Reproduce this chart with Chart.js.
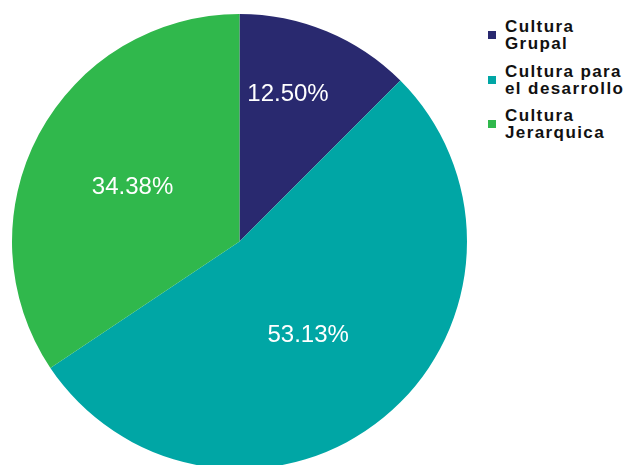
<!DOCTYPE html>
<html>
<head>
<meta charset="utf-8">
<script src="https://cdn.jsdelivr.net/npm/chart.js@4/dist/chart.umd.min.js"></script>
<style>
  html, body { margin: 0; padding: 0; background: #fff; overflow: hidden; }
  body { width: 627px; height: 465px; position: relative; }
  #wrap { position: absolute; left: 0; top: 0; width: 479px; height: 483px; }
  #legend { position: absolute; left: 488px; top: 18px; font-family: "Liberation Sans", Arial, sans-serif;
            font-weight: bold; font-size: 17px; line-height: 17px; letter-spacing: 1.4px; color: #111; }
  .item { display: flex; align-items: center; height: 34px; margin-bottom: 10.5px; }
  .box { width: 8px; height: 8px; margin-right: 9px; flex: none; }
</style>
</head>
<body>
<div id="wrap"><canvas id="myChart"></canvas></div>
<div id="legend"></div>
<script>
const categories = ["Cultura Grupal", "Cultura para el desarrollo", "Cultura Jerarquica"];
const legendLines = [["Cultura", "Grupal"], ["Cultura para", "el desarrollo"], ["Cultura", "Jerarquica"]];
const percents = [12.50, 53.13, 34.38];
const sliceColors = ["#29296f", "#00a6a5", "#30b84c"];

// where each value label sits: angle shift (deg) from the slice middle, and fraction of the radius
const labelPlacement = [[-4.5, 0.69], [2.5, 0.503], [-0.4, 0.531]];

// legend, two lines per entry
const legend = document.getElementById('legend');
legendLines.forEach((lines, i) => {
    const item = document.createElement('div');
    item.className = 'item';
    const box = document.createElement('span');
    box.className = 'box';
    box.style.background = sliceColors[i];
    const text = document.createElement('span');
    text.innerHTML = lines.join('<br>');
    item.appendChild(box);
    item.appendChild(text);
    legend.appendChild(item);
});

const valueLabels = {
    id: 'valueLabels',
    afterDatasetsDraw(chart) {
        const ctx = chart.ctx;
        const meta = chart.getDatasetMeta(0);
        ctx.save();
        ctx.fillStyle = '#fff';
        ctx.font = '24px "Liberation Sans", Arial, sans-serif';
        ctx.textAlign = 'center';
        ctx.textBaseline = 'alphabetic';
        meta.data.forEach((arc, i) => {
            const p = labelPlacement[i];
            const mid = (arc.startAngle + arc.endAngle) / 2 + p[0] * Math.PI / 180;
            const r = arc.outerRadius * p[1];
            const x = arc.x + Math.cos(mid) * r;
            const y = arc.y + Math.sin(mid) * r;
            ctx.fillText(percents[i].toFixed(2) + '%', x, y + 8.6);
        });
        ctx.restore();
    }
};

const ctx = document.getElementById('myChart').getContext('2d');
const myChart = new Chart(ctx, {
    type: 'pie',
    data: {
        labels: categories,
        datasets: [{
            data: percents,
            backgroundColor: sliceColors,
            borderWidth: 0,
        }]
    },
    options: {
        responsive: true,
        maintainAspectRatio: false,
        animation: false,
        layout: { padding: { left: 12, right: 12, top: 14, bottom: 14 } },
        plugins: {
            legend: { display: false },
            tooltip: { enabled: false },
        },
    },
    plugins: [valueLabels],
});
</script>
</body>
</html>
